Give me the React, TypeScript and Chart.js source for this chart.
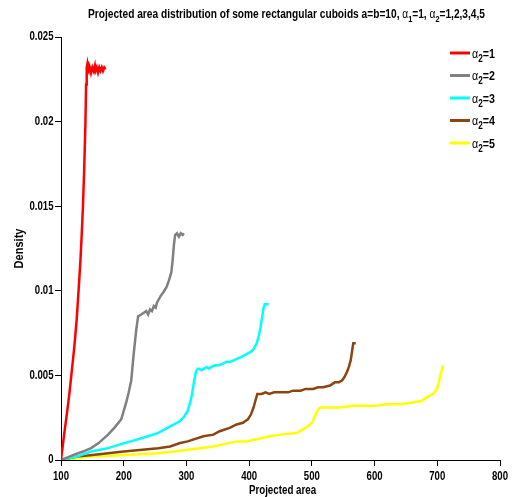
import React, { useEffect, useRef } from "react";
import { Chart, registerables } from "chart.js";

Chart.register(...registerables);

// ---- Data ----
const seriesLabels = ["1", "2", "3", "4", "5"];
const seriesColors = ["#ff0000", "#808080", "#00ffff", "#8b4513", "#ffff00"];

const x1 = [100,103,106,110,113,117,121,125,128,131,133,135,137,139,140,141,142,143,144,145,147,148,150,152,154,155,157,159,161,163,165,167,169,171];
const y1 = [0,0.0009,0.0018,0.0029,0.0038,0.0052,0.0066,0.0083,0.01,0.0118,0.0133,0.015,0.0172,0.02,0.0222,0.0232,0.0234,0.0231,0.023,0.0233,0.0231,0.0229,0.0232,0.023,0.0233,0.023,0.0232,0.0229,0.0232,0.023,0.0232,0.023,0.0232,0.0231];

const x2 = [100,120,135,148,160,175,185,196,200,204,208,212,216,220,223,228,232,236,239,242,245,248,251,253,256,259,263,268,272,276,278,280,282,285,288,291,294,296];
const y2 = [0,0.0003,0.0005,0.0007,0.001,0.0015,0.0019,0.0024,0.0029,0.0034,0.004,0.0047,0.0063,0.0077,0.0085,0.0086,0.0087,0.0088,0.0086,0.0089,0.0088,0.0091,0.009,0.0093,0.0095,0.0097,0.0099,0.0102,0.0106,0.0111,0.0118,0.0127,0.0133,0.0134,0.0132,0.0134,0.0133,0.0134];

const x3 = [100,125,148,175,201,230,255,275,290,297,302,306,309,312,315,318,320,324,328,332,336,340,346,352,358,364,370,376,382,388,393,398,403,408,412,415,418,421,423,425,431];
const y3 = [0,0.0002,0.0005,0.0007,0.001,0.0013,0.0016,0.002,0.0023,0.0026,0.0029,0.0034,0.0039,0.0046,0.0052,0.0054,0.0054,0.0053,0.0054,0.0055,0.0054,0.0055,0.0056,0.0056,0.0057,0.0058,0.0058,0.0059,0.006,0.0061,0.0062,0.0063,0.0064,0.0066,0.0069,0.0073,0.0078,0.0085,0.009,0.0092,0.0092];

const x4 = [100,125,150,200,255,274,290,302,327,343,353,369,380,390,398,403,407,410,413,420,426,432,440,449,455,462,470,476,482,490,496,502,510,518,529,533,537,543,548,552,556,559,562,564,566,570];
const y4 = [0,0.0002,0.0003,0.0005,0.0007,0.0008,0.001,0.0011,0.0014,0.0015,0.0017,0.0019,0.0021,0.0022,0.0024,0.0027,0.0031,0.0035,0.0039,0.0039,0.004,0.0039,0.004,0.004,0.004,0.004,0.0041,0.0041,0.0041,0.0042,0.0042,0.0042,0.0043,0.0043,0.0044,0.0045,0.0046,0.0046,0.0047,0.0049,0.0052,0.0055,0.0059,0.0064,0.0069,0.0069];

const x5 = [100,150,202,255,290,302,343,380,396,433,449,476,494,500,505,510,514,530,545,566,587,603,619,640,661,675,683,693,698,701,705,709];
const y5 = [0,0.0002,0.0003,0.0004,0.00055,0.0006,0.0008,0.0011,0.0011,0.0014,0.0015,0.0016,0.002,0.0022,0.0026,0.003,0.0031,0.0031,0.0031,0.0032,0.0032,0.0032,0.0033,0.0033,0.0034,0.0035,0.0037,0.0039,0.0041,0.0044,0.005,0.0056];

const xTicks = [100, 200, 300, 400, 500, 600, 700, 800];
const xTickLabels = ["100", "200", "300", "400", "500", "600", "700", "800"];
const yTicks = [0, 0.005, 0.01, 0.015, 0.02, 0.025];
const yTickLabels = ["0", "0.005", "0.01", "0.015", "0.02", "0.025"];

const titleParts: [string, boolean][] = [
  ["Projected area distribution of some rectangular cuboids a=b=10, ", false],
  ["\u03b1", false],
  ["1", true],
  ["=1, ", false],
  ["\u03b1", false],
  ["2", true],
  ["=1,2,3,4,5", false],
];
const xTitle = "Projected area";
const yTitle = "Density";

const FONT = '"Liberation Sans", Arial, sans-serif';

const xsList = [x1, x2, x3, x4, x5];
const ysList = [y1, y2, y3, y4, y5];

function drawText(
  ctx: CanvasRenderingContext2D,
  text: string,
  x: number,
  y: number,
  font: string,
  sx: number,
  align: CanvasTextAlign,
  baseline: CanvasTextBaseline = "alphabetic",
  rot = 0
) {
  ctx.save();
  ctx.translate(x, y);
  if (rot) ctx.rotate(rot);
  ctx.scale(sx, 1);
  ctx.font = font;
  ctx.textAlign = align;
  ctx.textBaseline = baseline;
  ctx.fillStyle = "#000";
  ctx.fillText(text, 0, 0);
  ctx.restore();
}

export default function App() {
  const ref = useRef<HTMLCanvasElement | null>(null);
  useEffect(() => {
    document.body.style.margin = "0";
    const canvas = ref.current!;
    const datasets = xsList.map((xs, i) => ({
      label: "\u03b12=" + seriesLabels[i],
      data: xs.map((x, j) => ({ x, y: ysList[i][j] })),
      borderColor: seriesColors[i],
      backgroundColor: seriesColors[i],
      borderWidth: 2.5,
      pointRadius: 0,
      showLine: true,
      tension: 0,
      fill: false,
    }));

    const overlay = {
      id: "overlay",
      afterDraw(chart: any) {
        const ctx = chart.ctx as CanvasRenderingContext2D;
        const sxs = chart.scales.x;
        const sys = chart.scales.y;
        const tickFont = "bold 12px " + FONT;
        const tsx = 0.8;
        // tick labels
        xTicks.forEach((v, i) => {
          drawText(ctx, xTickLabels[i], sxs.getPixelForValue(v), 476.5, tickFont, tsx, "center", "middle");
        });
        yTicks.forEach((v, i) => {
          drawText(ctx, yTickLabels[i], 53.5, sys.getPixelForValue(v), tickFont, tsx, "right", "middle");
        });
        // axis titles
        drawText(ctx, xTitle, (chart.chartArea.left + chart.chartArea.right) / 2 + 2, 491, "bold 12.5px " + FONT, 0.78, "center", "middle");
        drawText(ctx, yTitle, 19, (chart.chartArea.top + chart.chartArea.bottom) / 2, "bold 13px " + FONT, 0.85, "center", "middle", -Math.PI / 2);

        // Title with subscripts
        const main = "bold 12.5px " + FONT;
        const greek = "12.5px " + FONT;
        const sub = "bold 9px " + FONT;
        const fontFor = (t: string, s: boolean) => (s ? sub : t === "\u03b1" ? greek : main);
        ctx.save();
        let total = 0;
        titleParts.forEach(([t, s]) => {
          ctx.font = fontFor(t, s);
          total += ctx.measureText(t).width;
        });
        const targetW = 397;
        const tscale = targetW / total;
        ctx.translate(88, 18);
        ctx.scale(tscale, 1);
        ctx.fillStyle = "#000";
        ctx.textBaseline = "alphabetic";
        ctx.textAlign = "left";
        let x = 0;
        titleParts.forEach(([t, s]) => {
          ctx.font = fontFor(t, s);
          ctx.fillText(t, x, s ? 4 : 0);
          x += ctx.measureText(t).width;
        });
        ctx.restore();

        // Legend
        const rows = [53, 75.5, 98, 120.5, 143];
        const lsx = 0.82;
        chart.data.datasets.forEach((_ds: any, i: number) => {
          const y = rows[i];
          ctx.save();
          ctx.strokeStyle = seriesColors[i];
          ctx.lineWidth = 3;
          ctx.beginPath();
          ctx.moveTo(450, y);
          ctx.lineTo(470, y);
          ctx.stroke();
          ctx.restore();
          ctx.save();
          ctx.translate(472, y + 4.5);
          ctx.scale(lsx, 1);
          ctx.fillStyle = "#000";
          ctx.textAlign = "left";
          ctx.textBaseline = "alphabetic";
          let lx = 0;
          ctx.font = "13px " + FONT;
          ctx.fillText("\u03b1", lx, 0);
          lx += ctx.measureText("\u03b1").width;
          ctx.font = "bold 10px " + FONT;
          ctx.fillText("2", lx, 4);
          lx += ctx.measureText("2").width;
          ctx.font = "bold 13px " + FONT;
          ctx.fillText("=" + seriesLabels[i], lx, 0);
          ctx.restore();
        });
      },
    };

    const chart = new Chart(canvas, {
      type: "scatter",
      data: { datasets },
      options: {
        animation: false,
        responsive: false,
        layout: { padding: { top: 37, right: 25, left: 0, bottom: 0 } },
        plugins: {
          legend: { display: false },
          title: { display: false },
          tooltip: { enabled: false },
        },
        scales: {
          x: {
            type: "linear",
            min: 100,
            max: 800,
            afterFit: (s: any) => { s.height = 37; },
            afterBuildTicks: (s: any) => { s.ticks = xTicks.map((v) => ({ value: v })); },
            ticks: { display: false },
            grid: { display: true, drawOnChartArea: false, drawTicks: true, tickLength: 6, color: "#000", lineWidth: 1 },
            border: { display: true, color: "#000", width: 1 },
          },
          y: {
            type: "linear",
            min: 0,
            max: 0.025,
            afterFit: (s: any) => { s.width = 61; },
            afterBuildTicks: (s: any) => { s.ticks = yTicks.map((v) => ({ value: v })); },
            ticks: { display: false },
            grid: { display: true, drawOnChartArea: false, drawTicks: true, tickLength: 6, color: "#000", lineWidth: 1 },
            border: { display: true, color: "#000", width: 1 },
          },
        },
      },
      plugins: [overlay],
    });
    return () => chart.destroy();
  }, []);
  return <canvas ref={ref} width={525} height={497} />;
}
